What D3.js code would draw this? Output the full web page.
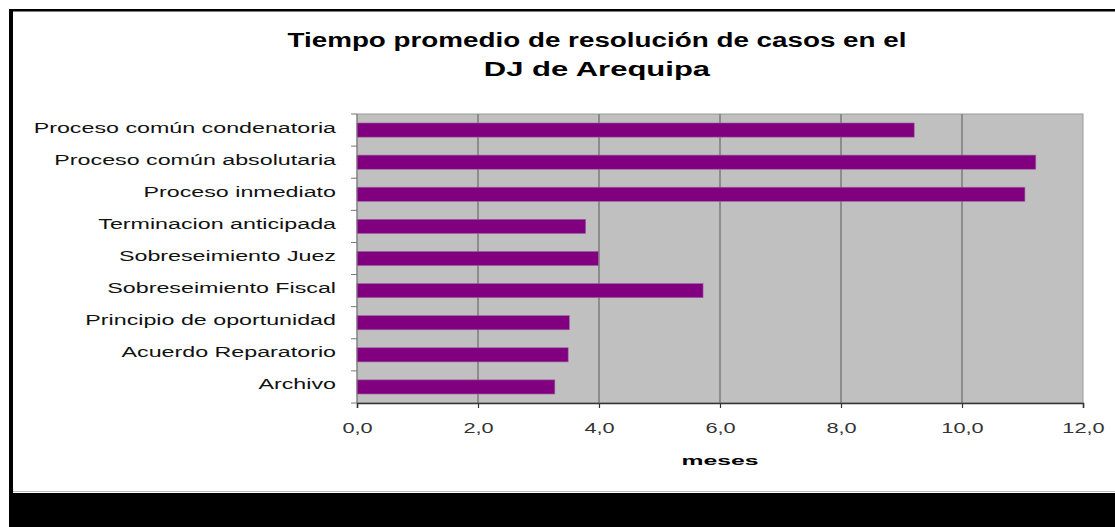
<!DOCTYPE html>
<html>
<head>
<meta charset="utf-8">
<script src="https://cdn.jsdelivr.net/npm/d3@7"></script>
<style>
  body { margin: 0; background: #fff; }
  text { font-family: "Liberation Sans", Arial, sans-serif; }
</style>
</head>
<body>
<div id="chart"></div>
<script>
// data (months)
const categories = [
  "Proceso común condenatoria",
  "Proceso común absolutaria",
  "Proceso inmediato",
  "Terminacion anticipada",
  "Sobreseimiento Juez",
  "Sobreseimiento Fiscal",
  "Principio de oportunidad",
  "Acuerdo Reparatorio",
  "Archivo"
];
const values = [9.21, 11.22, 11.04, 3.78, 3.99, 5.72, 3.51, 3.49, 3.27];
const xTicks = [0, 2, 4, 6, 8, 10, 12];
const titleLines = ["Tiempo promedio de resolución de casos en el", "DJ de Arequipa"];
const xLabel = "meses";

const width = 1115;
const height = 527;
const plot = { left: 357, right: 1083, top: 114, bottom: 403 };

const svg = d3.select("#chart")
  .append("svg")
  .attr("width", width)
  .attr("height", height)
  .style("display", "block")
  .style("background", "white");

// stretch text horizontally (the source render is wide-spaced)
function stretch(sel, factor) {
  sel.each(function(d, i) {
    const f = Array.isArray(factor) ? factor[i] : factor;
    const w = this.getComputedTextLength();
    d3.select(this).attr("textLength", w * f).attr("lengthAdjust", "spacingAndGlyphs");
  });
}

// frame: black edges like the screenshot
svg.append("rect").attr("x", 9).attr("y", 9).attr("width", width - 9).attr("height", 2.5).attr("fill", "#000");
svg.append("rect").attr("x", 9).attr("y", 9).attr("width", 4).attr("height", 484).attr("fill", "#000");
svg.append("rect").attr("x", 9).attr("y", 493).attr("width", width - 9).attr("height", height - 493).attr("fill", "#000");
svg.append("line").attr("x1", 13).attr("x2", width).attr("y1", 491.5).attr("y2", 491.5).attr("stroke", "#bbb");

const x = d3.scaleLinear()
  .domain([0, 12])
  .range([plot.left, plot.right]);

const y = d3.scaleBand()
  .domain(categories)
  .range([plot.top, plot.bottom])
  .paddingInner(0.56)
  .paddingOuter(0.28);

// plot background
svg.append("rect")
  .attr("x", plot.left)
  .attr("y", plot.top)
  .attr("width", plot.right - plot.left)
  .attr("height", plot.bottom - plot.top)
  .attr("fill", "#c0c0c0")
  .attr("stroke", "#9a9a9a")
  .attr("stroke-width", 1);

// vertical gridlines
svg.append("g")
  .selectAll("line")
  .data(xTicks.filter(d => d > 0 && d < 12))
  .join("line")
  .attr("x1", d => x(d))
  .attr("x2", d => x(d))
  .attr("y1", plot.top)
  .attr("y2", plot.bottom)
  .attr("stroke", "#8c8c8c")
  .attr("stroke-width", 2);

// bars
svg.append("g")
  .selectAll("rect")
  .data(values)
  .join("rect")
  .attr("x", x(0))
  .attr("y", (d, i) => y(categories[i]))
  .attr("width", d => x(d) - x(0))
  .attr("height", y.bandwidth())
  .attr("fill", "#800080")
  .attr("stroke", "#a060a0")
  .attr("stroke-width", 0.6);

// x axis
const xAxis = svg.append("g")
  .attr("transform", `translate(0,${plot.bottom})`)
  .call(d3.axisBottom(x)
    .tickValues(xTicks)
    .tickSize(5)
    .tickPadding(14)
    .tickFormat(d => d3.format(".1f")(d).replace(".", ",")));

xAxis.select(".domain").attr("stroke", "#333").attr("stroke-width", 1.5);
xAxis.selectAll(".tick line").attr("stroke", "#333").attr("stroke-width", 1.2);
xAxis.selectAll("text")
  .attr("font-size", "15px")
  .attr("fill", "#333")
  .call(stretch, 1.45);

// y axis: ticks at category boundaries
const step = y.step();
const boundaries = d3.range(categories.length + 1).map(i => plot.top + i * step);
svg.append("line")
  .attr("x1", plot.left).attr("x2", plot.left)
  .attr("y1", plot.top).attr("y2", plot.bottom)
  .attr("stroke", "#777").attr("stroke-width", 1);
svg.append("g")
  .selectAll("line")
  .data(boundaries)
  .join("line")
  .attr("x1", plot.left - 6)
  .attr("x2", plot.left)
  .attr("y1", d => d)
  .attr("y2", d => d)
  .attr("stroke", "#777")
  .attr("stroke-width", 1);

svg.append("g")
  .selectAll("text")
  .data(categories)
  .join("text")
  .attr("x", 336)
  .attr("y", d => y(d) + y.bandwidth() / 2 + 2.5)
  .attr("text-anchor", "end")
  .attr("font-size", "14px")
  .attr("fill", "#111")
  .text(d => d)
  .call(stretch, 1.66);

// title
svg.append("g")
  .selectAll("text")
  .data(titleLines)
  .join("text")
  .attr("x", 597)
  .attr("y", (d, i) => 47 + i * 29)
  .attr("text-anchor", "middle")
  .attr("font-size", "20px")
  .attr("font-weight", "bold")
  .attr("fill", "#000")
  .text(d => d)
  .call(stretch, [1.39, 1.55]);

// x label
svg.append("text")
  .attr("x", 720)
  .attr("y", 465)
  .attr("text-anchor", "middle")
  .attr("font-size", "13px")
  .attr("font-weight", "bold")
  .attr("fill", "#000")
  .text(xLabel)
  .call(stretch, 1.9);
</script>
</body>
</html>
